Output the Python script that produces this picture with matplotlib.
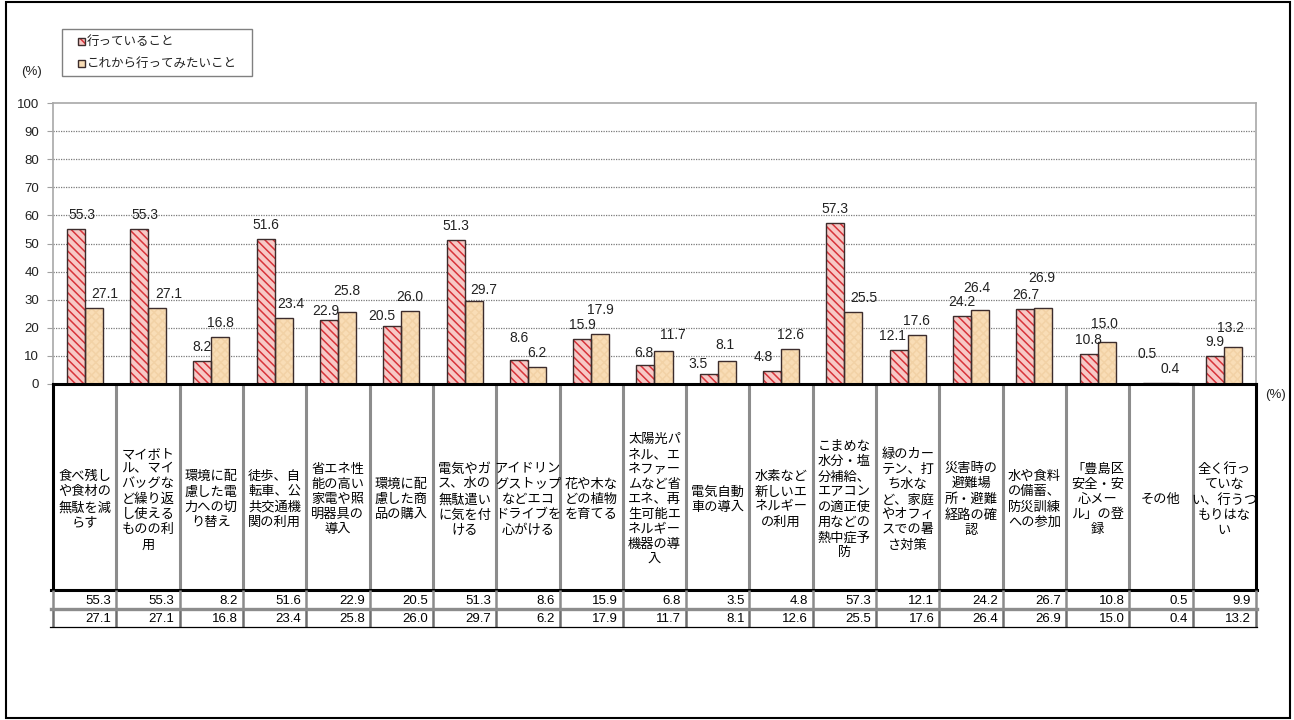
import matplotlib
matplotlib.use('Agg')
import matplotlib.pyplot as plt
from matplotlib.patches import Rectangle
import numpy as np

plt.rcParams['font.family'] = ['Liberation Sans', 'Noto Sans CJK JP']
plt.rcParams['hatch.linewidth'] = 1.1

# ---- data -------------------------------------------------------------
categories = [
    '食べ残し\nや食材の\n無駄を減\nらす',
    'マイボト\nル、マイ\nバッグな\nど繰り返\nし使える\nものの利\n用',
    '環境に配\n慮した電\n力への切\nり替え',
    '徒歩、自\n転車、公\n共交通機\n関の利用',
    '省エネ性\n能の高い\n家電や照\n明器具の\n導入',
    '環境に配\n慮した商\n品の購入',
    '電気やガ\nス、水の\n無駄遣い\nに気を付\nける',
    'アイドリン\nグストップ\nなどエコ\nドライブを\n心がける',
    '花や木な\nどの植物\nを育てる',
    '太陽光パ\nネル、エ\nネファー\nムなど省\nエネ、再\n生可能エ\nネルギー\n機器の導\n入',
    '電気自動\n車の導入',
    '水素など\n新しいエ\nネルギー\nの利用',
    'こまめな\n水分・塩\n分補給、\nエアコン\nの適正使\n用などの\n熱中症予\n防',
    '緑のカー\nテン、打\nち水な\nど、家庭\nやオフィ\nスでの暑\nさ対策',
    '災害時の\n避難場\n所・避難\n経路の確\n認',
    '水や食料\nの備蓄、\n防災訓練\nへの参加',
    '「豊島区\n安全・安\n心メー\nル」の登\n録',
    'その他',
    '全く行っ\nていな\nい、行うつ\nもりはな\nい',
]
doing = [55.3, 55.3, 8.2, 51.6, 22.9, 20.5, 51.3, 8.6, 15.9, 6.8,
         3.5, 4.8, 57.3, 12.1, 24.2, 26.7, 10.8, 0.5, 9.9]
want = [27.1, 27.1, 16.8, 23.4, 25.8, 26.0, 29.7, 6.2, 17.9, 11.7,
        8.1, 12.6, 25.5, 17.6, 26.4, 26.9, 15.0, 0.4, 13.2]
series_labels = ['行っていること', 'これから行ってみたいこと']
yticks = [0, 10, 20, 30, 40, 50, 60, 70, 80, 90, 100]

# hand-placed data-label nudges (pixels: +x right, +y up) keyed by column
doing_nudge = {0: (6, 0), 1: (6, 0), 4: (-3, -5), 5: (-10, -4), 7: (0, 8),
               9: (-2, -2), 10: (-11, -4), 11: (-9, 0), 13: (-6, 0),
               17: (-5, 15)}
want_nudge = {0: (11, 0), 1: (12, 0), 3: (7, 0), 4: (0, 7), 6: (10, -3),
              8: (0, 10), 9: (9, 2), 10: (-2, 2), 12: (10, 0), 14: (-3, 8),
              15: (-2, 16), 16: (-2, 4), 18: (-3, 5)}

# ---- styling ----------------------------------------------------------
RED_FACE = '#F7C9C6'
RED_HATCH = '#D8343A'
BEIGE_FACE = '#F9DDB6'
BEIGE_HATCH = '#F2D2A6'
OUTLINE = '#3C2C2C'
TXT = '#222222'
GRAY = '#8C8C8C'
PX = 0.72  # points per pixel at 100 dpi

W, H = 1294, 720
fig = plt.figure(figsize=(W / 100, H / 100), dpi=100)
fig.patch.set_facecolor('white')

L, R = 53, 1256          # table / plot horizontal extent (px)
PTOP, PBOT = 103, 384    # plot area top / bottom (px)
ax = fig.add_axes([L / W, 1 - PBOT / H, (R - L) / W, (PBOT - PTOP) / H])

n = len(categories)
x = np.arange(n)
bw = 0.285

# hatched fill, then a separate dark outline
ax.bar(x - bw / 2, doing, bw, color=RED_FACE, edgecolor=RED_HATCH,
       hatch='\\\\\\\\', linewidth=0, zorder=3)
ax.bar(x - bw / 2, doing, bw, fill=False, edgecolor=OUTLINE,
       linewidth=1.0, zorder=4)
ax.bar(x + bw / 2, want, bw, color=BEIGE_FACE, edgecolor=BEIGE_HATCH,
       hatch='xxxx', linewidth=0, zorder=3)
ax.bar(x + bw / 2, want, bw, fill=False, edgecolor=OUTLINE,
       linewidth=1.0, zorder=4)

BASE_LIFT = 14  # px from bar top to label centre
for i in range(n):
    dx, dy = doing_nudge.get(i, (0, 0))
    ax.annotate(f'{doing[i]:.1f}', (x[i] - bw / 2, doing[i]),
                xytext=(dx * PX, (BASE_LIFT + dy) * PX),
                textcoords='offset points', ha='center', va='center',
                fontsize=10, color=TXT, zorder=5)
    dx, dy = want_nudge.get(i, (0, 0))
    ax.annotate(f'{want[i]:.1f}', (x[i] + bw / 2, want[i]),
                xytext=(dx * PX, (BASE_LIFT + dy) * PX),
                textcoords='offset points', ha='center', va='center',
                fontsize=10, color=TXT, zorder=5)

ax.set_xlim(-0.5, n - 0.5)
ax.set_ylim(0, 100)
ax.set_yticks(yticks)
ax.set_yticklabels([str(t) for t in yticks], fontsize=9.5, color=TXT)
ax.set_xticks([])
ax.tick_params(axis='y', length=4, color='#A0A0A0', pad=6)
for t in yticks[1:-1]:
    ax.axhline(t, color='#7A7A7A', linewidth=0.9, linestyle=(0, (1, 1)),
               zorder=1)
for side in ['left', 'top', 'right']:
    ax.spines[side].set_color('#A8A8A8')
    ax.spines[side].set_linewidth(1.2)
ax.spines['bottom'].set_visible(False)

# ---- overlay in pixel coordinates: table, legend, frame ---------------
ov = fig.add_axes([0, 0, 1, 1], zorder=3)
ov.set_xlim(0, W)
ov.set_ylim(H, 0)
ov.axis('off')
ov.patch.set_alpha(0)

edges = L + (R - L) * np.arange(n + 1) / n
T0, T1, T2, T3 = 384, 590, 609, 627

# header cells
for e in edges[1:-1]:
    ov.plot([e, e], [T0, T1], color=GRAY, lw=2.2, solid_capstyle='butt')
ov.plot([L, R], [T0, T0], color='black', lw=2.2, solid_capstyle='projecting')
ov.plot([L, L], [T0, T1], color='black', lw=2.2)
ov.plot([R, R], [T0, T1], color='black', lw=2.2)
ov.plot([L - 2, R + 1], [T1, T1], color='black', lw=2.2)

# value rows
for e in edges:
    ov.plot([e, e], [T1, T2], color=GRAY, lw=1.8, solid_capstyle='butt')
    ov.plot([e, e], [T2, T3], color='#6E6E6E', lw=1.8, solid_capstyle='butt')
ov.plot([L - 2, R + 1], [T2, T2], color=GRAY, lw=2.4)
ov.plot([L - 3, R + 1], [T3, T3], color='black', lw=0.9)

for i in range(n):
    cx = (edges[i] + edges[i + 1]) / 2
    ov.text(cx, 500, categories[i], ha='center', va='center',
            fontsize=9.5, linespacing=1.33, color='black',
            multialignment='center')
    ov.text(edges[i + 1] - 5, (T1 + T2) / 2 + 1, f'{doing[i]:.1f}',
            ha='right', va='center', fontsize=9.5, color='black')
    ov.text(edges[i + 1] - 5, (T2 + T3) / 2 + 0.5, f'{want[i]:.1f}',
            ha='right', va='center', fontsize=9.5, color='black')

# unit labels
ov.text(32, 72, '(%)', ha='center', va='center', fontsize=9.5, color=TXT)
ov.text(1275, 395, '(%)', ha='center', va='center', fontsize=9.5, color=TXT)

# legend
ov.add_patch(Rectangle((62, 29), 190, 47, facecolor='white',
                       edgecolor='#808080', lw=1.0))
ov.add_patch(Rectangle((78, 38), 7, 7, facecolor=RED_FACE,
                       edgecolor=RED_HATCH, hatch='\\\\\\\\', lw=0))
ov.add_patch(Rectangle((78, 38), 7, 7, fill=False, edgecolor=OUTLINE, lw=1.0))
ov.add_patch(Rectangle((78, 60), 7, 7, facecolor=BEIGE_FACE,
                       edgecolor=OUTLINE, lw=1.0))
ov.text(87, 42, series_labels[0], ha='left', va='center', fontsize=9,
        color=TXT)
ov.text(87, 64, series_labels[1], ha='left', va='center', fontsize=9,
        color=TXT)

# outer frame
ov.add_patch(Rectangle((6, 2), 1284, 716, fill=False, edgecolor='black',
                       lw=1.5))

fig.savefig('out.png', dpi=100, facecolor='white')
